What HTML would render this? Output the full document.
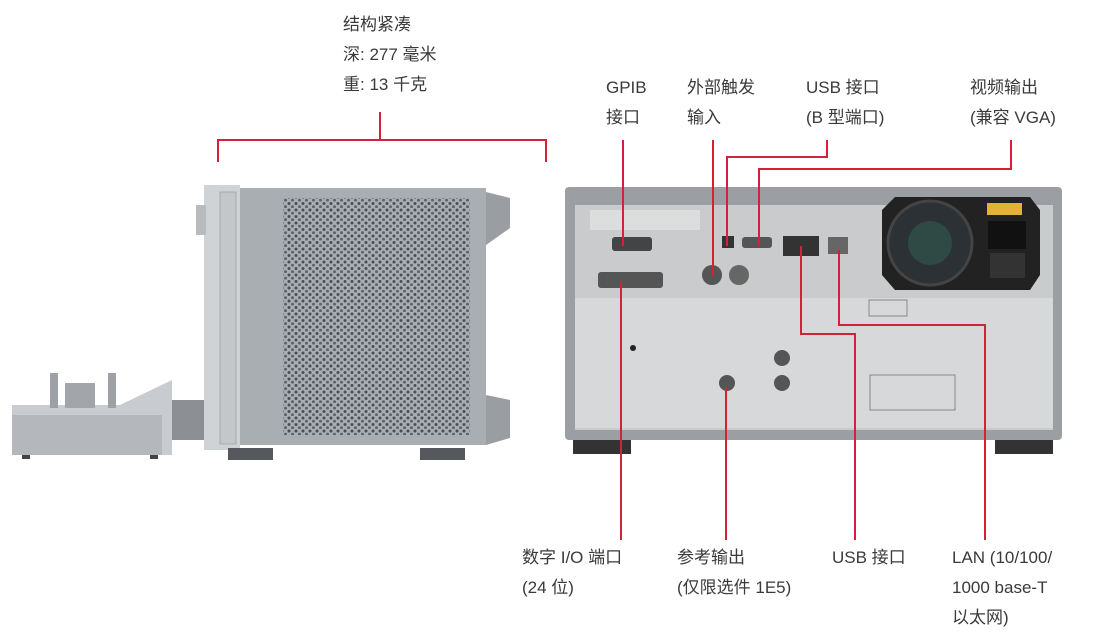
<!DOCTYPE html>
<html><head><meta charset="utf-8"><style>
body{margin:0;width:1111px;height:643px;background:#fff;overflow:hidden;position:relative;font-family:"Liberation Sans","Noto Sans CJK SC",sans-serif}
.t{position:absolute;font-size:17px;color:#3a3a3a;line-height:30px;white-space:nowrap}
svg{position:absolute;left:0;top:0}
</style></head><body>
<svg width="1111" height="643" viewBox="0 0 1111 643">
<defs>
<pattern id="holes" width="7" height="6.5" patternUnits="userSpaceOnUse">
<rect width="7" height="6.5" fill="#a8adb3"/>
<circle cx="2" cy="2" r="1.5" fill="#4a4e53"/>
<circle cx="5.5" cy="5.2" r="1.5" fill="#5e6267"/>
</pattern>
</defs>
<!-- accessory box -->
<rect x="12" y="415" width="150" height="40" fill="#b4b8bc"/>
<polygon points="12,405 120,405 172,380 172,455 162,455 162,415 12,415" fill="#c8cbcf"/>
<rect x="50" y="373" width="8" height="35" fill="#9da1a5"/>
<rect x="108" y="373" width="8" height="35" fill="#9da1a5"/>
<rect x="65" y="383" width="30" height="25" fill="#a2a6aa"/>
<rect x="172" y="400" width="35" height="40" fill="#8c9094"/>
<rect x="22" y="455" width="8" height="4" fill="#444"/><rect x="150" y="455" width="8" height="4" fill="#444"/>
<!-- side view -->
<rect x="204" y="185" width="36" height="265" fill="#d0d3d6"/>
<rect x="220" y="192" width="16" height="252" fill="#c4c7ca" stroke="#aaa"/>
<rect x="196" y="205" width="10" height="30" fill="#b8bbbe"/>
<rect x="240" y="188" width="246" height="257" fill="#a9aeb3"/>
<rect x="283" y="198" width="187" height="237" fill="url(#holes)"/>
<polygon points="486,192 510,198 510,228 486,245" fill="#9a9ea3"/>
<polygon points="486,395 510,400 510,438 486,445" fill="#9a9ea3"/>
<rect x="228" y="448" width="45" height="12" fill="#55585c"/>
<rect x="420" y="448" width="45" height="12" fill="#55585c"/>
<!-- rear view -->
<rect x="565" y="187" width="497" height="253" rx="4" fill="#9b9fa3"/>
<rect x="575" y="205" width="478" height="225" fill="#c9cbcc"/>
<rect x="575" y="298" width="478" height="130" fill="#d6d8d9"/>
<rect x="590" y="210" width="110" height="20" fill="#dcdddd"/>
<rect x="612" y="237" width="40" height="14" rx="3" fill="#444"/>
<rect x="598" y="272" width="65" height="16" rx="3" fill="#555"/>
<rect x="722" y="236" width="12" height="12" fill="#333"/>
<rect x="742" y="237" width="30" height="11" rx="3" fill="#555"/>
<rect x="783" y="236" width="36" height="20" fill="#333"/>
<rect x="828" y="237" width="20" height="17" fill="#666"/>
<circle cx="712" cy="275" r="10" fill="#555"/><circle cx="739" cy="275" r="10" fill="#666"/>
<polygon points="895,197 1030,197 1040,210 1040,275 1030,290 895,290 882,275 882,210" fill="#222"/>
<circle cx="930" cy="243" r="42" fill="#2b3135" stroke="#444" stroke-width="3"/>
<circle cx="930" cy="243" r="22" fill="#2f4a44"/>
<rect x="988" y="221" width="38" height="28" fill="#111"/>
<rect x="990" y="253" width="35" height="25" fill="#333"/>
<rect x="987" y="203" width="35" height="12" fill="#e3b233"/>
<rect x="869" y="300" width="38" height="16" fill="none" stroke="#888"/>
<rect x="870" y="375" width="85" height="35" fill="none" stroke="#888"/>
<circle cx="782" cy="358" r="8" fill="#555"/><circle cx="782" cy="383" r="8" fill="#555"/>
<circle cx="727" cy="383" r="8" fill="#555"/>
<circle cx="633" cy="348" r="3" fill="#222"/>
<rect x="573" y="440" width="58" height="14" fill="#333"/>
<rect x="995" y="440" width="58" height="14" fill="#333"/>
<!-- red lines -->
<g stroke="#d6203a" stroke-width="2" fill="none">
<polyline points="218,162 218,140 546,140 546,162"/>
<line x1="380" y1="112" x2="380" y2="140"/>
<line x1="623" y1="140" x2="623" y2="246"/>
<line x1="621" y1="282" x2="621" y2="540"/>
<line x1="713" y1="140" x2="713" y2="276"/>
<polyline points="827,140 827,157 727,157 727,246"/>
<polyline points="1011,140 1011,169 759,169 759,246"/>
<polyline points="801,246 801,334 855,334 855,540"/>
<polyline points="839,250 839,325 985,325 985,540"/>
<line x1="726" y1="387" x2="726" y2="540"/>
</g>
</svg>
<div class="t" style="left:343px;top:10px">结构紧凑<br>深: 277 毫米<br>重: 13 千克</div>
<div class="t" style="left:606px;top:73px">GPIB<br>接口</div>
<div class="t" style="left:687px;top:73px">外部触发<br>输入</div>
<div class="t" style="left:806px;top:73px">USB 接口<br>(B 型端口)</div>
<div class="t" style="left:970px;top:73px">视频输出<br>(兼容 VGA)</div>
<div class="t" style="left:522px;top:543px">数字 I/O 端口<br>(24 位)</div>
<div class="t" style="left:677px;top:543px">参考输出<br>(仅限选件 1E5)</div>
<div class="t" style="left:832px;top:543px">USB 接口</div>
<div class="t" style="left:952px;top:543px">LAN (10/100/<br>1000 base-T<br>以太网)</div>
</body></html>
